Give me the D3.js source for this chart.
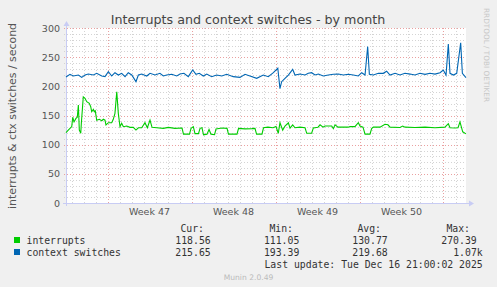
<!DOCTYPE html>
<html>
<head>
<meta charset="utf-8">
<script src="https://cdn.jsdelivr.net/npm/d3@7"></script>
<style>
    body { margin: 0; background: #f0f0f0; }
    svg { display: block; }
    text { font-family: "DejaVu Sans", sans-serif; }
    .mono { font-family: "DejaVu Sans Mono", monospace; font-size: 9.8px; fill: #333; }
</style>
</head>
<body>
<div id="chart"></div>
<script>

// data, times are days since the graph start
var intDays = [0, 0.19, 0.48, 0.56, 0.67, 0.83, 0.94, 1.03, 1.11, 1.23, 1.28, 1.44, 1.58, 1.73, 1.94, 2.06, 2.14, 2.28,
    2.36, 2.44, 2.56, 2.78, 2.98, 3.11, 3.25, 3.33, 3.53, 3.81, 3.94, 4.08, 4.23, 4.36, 4.5, 4.64, 4.78, 5.06, 5.33,
    5.61, 5.83, 6.03, 6.31, 6.58, 6.78, 7.0, 7.17, 7.56, 8.11, 8.53, 9.08, 9.67, 9.79, 10.29, 10.42, 10.61, 10.75,
    11.04, 11.17, 11.33, 11.46, 11.75, 11.92, 12.08, 12.38, 12.5, 13, 13.42, 13.54, 14.25, 14.38, 14.92, 15.5, 15.75,
    15.88, 16.33, 16.46, 16.83, 17.25, 17.5, 17.69, 17.83, 18.06, 18.25, 18.53, 18.67, 18.89, 19.08, 19.5, 19.92,
    20.06, 20.47, 20.61, 21, 21.17, 21.42, 21.58, 22.14, 22.28, 22.42, 22.67, 23.5, 23.67, 24.08, 24.36, 24.5, 24.75,
    24.92, 25.33, 25.47, 25.61, 26.17, 26.58, 26.83, 27, 27.83, 28.06, 28.25, 29.08, 29.92, 30.75, 31.58, 31.86, 32,
    32.42, 32.67, 32.83, 33.06, 33.33];
var interrupts = [120.5, 125, 131, 147, 139, 145, 147, 168, 125, 119.5, 137, 182, 179.5, 173.7, 171, 165, 156.5, 160.6,
    156.5, 158, 142, 143.5, 141, 143.5, 142, 133.7, 137.7, 137.7, 143.5, 153.7, 190.8, 153.7, 130.8, 136.6, 130.8, 132, 129.7,
    129.7, 125, 129, 129, 137.7, 129, 142, 129.7, 129, 128, 129.7, 128, 128.5, 118, 118, 128, 131, 119,
    119, 128, 129, 117, 118, 126, 118, 117, 127, 128.5, 128, 118, 118, 128, 127, 127.5, 128,
    118, 118, 129, 130, 129, 131, 119.5, 137.6, 125, 132, 137.6, 128.5, 134, 129, 130, 129,
    119.5, 119.5, 128.5, 130, 134, 130, 132, 132, 127.5, 134, 130, 130, 131, 131, 137.6, 132, 130,
    118, 118, 127.5, 130, 130, 135, 134, 130, 129.5, 132, 130, 129.5, 130, 129, 130, 136, 129,
    128.5, 129, 139, 122, 118.5];

var ctxDays = [0, 0.33, 0.61, 1.03, 1.31, 1.58, 1.86, 2.28, 2.56, 2.98, 3.25, 3.53, 3.81, 4.08, 4.36, 4.64, 4.92, 5.19,
    5.48, 5.83, 6.03, 6.31, 6.73, 7.0, 7.42, 7.83, 8.11, 8.39, 8.81, 9.23, 9.5, 9.83, 10.19, 10.56, 10.83, 11.11, 11.44,
    11.73, 12.14, 12.56, 12.98, 13.39, 13.94, 14.5, 14.92, 15.33, 15.89, 16.44, 16.86, 17.28, 17.65, 17.83, 17.97,
    18.25, 18.53, 18.89, 19.08, 19.5, 19.92, 20.19, 20.47, 20.75, 21.03, 21.44, 21.86, 22.28, 22.69, 23.11, 23.53,
    23.94, 24.36, 24.64, 24.92, 25.14, 25.28, 25.61, 26.03, 26.44, 26.72, 27.0, 27.42, 27.83, 28.25, 28.67, 29.08,
    29.5, 29.92, 30.33, 30.75, 31.17, 31.44, 31.67, 31.86, 32.0, 32.28, 32.56, 32.89, 33.03, 33.33];
var contextSwitches = [216, 220.6, 217.7, 219.4, 215.4, 219.4, 221, 219.4, 222.3, 217.7, 216.6, 225, 217.7, 223.4, 219.4, 222.3, 216.6, 223.4,
    219.4, 208, 219.4, 221, 217.7, 222.3, 219.4, 222.3, 217.7, 219.4, 220.6, 217.7, 221, 222.3, 216.6, 228, 220.6, 222.3, 217.7,
    221, 216.6, 219.4, 217.7, 220.6, 216.6, 215.4, 220.6, 217.7, 213.7, 219.4, 216.6, 223.4, 231, 196, 208,
    213.7, 219.4, 229, 219.4, 221, 219.4, 222.3, 223.4, 219.4, 221, 217.7, 219.4, 220.6, 221, 219.4, 220.6,
    219.4, 217.7, 223.4, 219.4, 268, 220.6, 219.4, 222.3, 222.3, 226, 219.4, 222.3, 219.4, 222.3, 221, 219.4,
    222.3, 220.6, 222.3, 221, 223.4, 228, 219.4, 272.6, 222.3, 219.4, 222.3, 274.8, 222.3, 214.8];

var yTicks = [0, 50, 100, 150, 200, 250, 300];
var seriesNames = ["interrupts", "context switches"];
var seriesColors = ["#00cc00", "#0066b3"];
var statHeads = ["Cur:", "Min:", "Avg:", "Max:"];
var statsInt = ["118.56", "111.05", "130.77", "270.39"];
var statsCtx = ["215.65", "193.39", "219.68", "1.07k"];

var startDate = new Date(2025, 10, 13, 13, 0);
var endDate = new Date(2025, 11, 16, 21, 0);

var width = 497, height = 287;
var plotLeft = 66, plotRight = 466, plotTop = 28, plotBottom = 203;

var svg = d3.select("#chart")
    .append("svg")
    .attr("width", width)
    .attr("height", height);

svg.append("rect")
    .attr("width", width)
    .attr("height", height)
    .attr("fill", "#f0f0f0");

svg.append("rect")
    .attr("x", plotLeft)
    .attr("y", plotTop)
    .attr("width", plotRight - plotLeft)
    .attr("height", plotBottom - plotTop)
    .attr("fill", "#ffffff");

var xScale = d3.scaleTime()
    .domain([startDate, endDate])
    .range([plotLeft, plotRight]);

var yScale = d3.scaleLinear()
    .domain([0, 300])
    .range([plotBottom, plotTop]);

function toDate(d) {
    return new Date(startDate.getTime() + d * 86400000);
}

/* grid */
var minorY = d3.range(0, 301, 10).filter(function (v) { return v % 50 !== 0; });
svg.selectAll(".hminor")
    .data(minorY)
    .enter()
    .append("line")
    .attr("x1", plotLeft - 2)
    .attr("x2", plotRight)
    .attr("y1", function (d) { return Math.round(yScale(d)) + 0.5; })
    .attr("y2", function (d) { return Math.round(yScale(d)) + 0.5; })
    .attr("stroke", "#d4d4d4")
    .attr("stroke-dasharray", "1,2");

var days = d3.timeDay.range(startDate, endDate).filter(function (d) { return d.getDay() !== 1; });
svg.selectAll(".vminor")
    .data(days)
    .enter()
    .append("line")
    .attr("x1", function (d) { return Math.round(xScale(d)) + 0.5; })
    .attr("x2", function (d) { return Math.round(xScale(d)) + 0.5; })
    .attr("y1", plotTop)
    .attr("y2", plotBottom + 2)
    .attr("stroke", "#d4d4d4")
    .attr("stroke-dasharray", "1,2");

svg.selectAll(".hmajor")
    .data(yTicks.filter(function (d) { return d > 0; }))
    .enter()
    .append("line")
    .attr("x1", plotLeft - 2)
    .attr("x2", plotRight)
    .attr("y1", function (d) { return Math.round(yScale(d)) + 0.5; })
    .attr("y2", function (d) { return Math.round(yScale(d)) + 0.5; })
    .attr("stroke", "#eaa0a0")
    .attr("stroke-dasharray", "1,2");

var mondays = d3.timeMonday.range(startDate, endDate);
svg.selectAll(".vmajor")
    .data(mondays)
    .enter()
    .append("line")
    .attr("x1", function (d) { return Math.round(xScale(d)) + 0.5; })
    .attr("x2", function (d) { return Math.round(xScale(d)) + 0.5; })
    .attr("y1", plotTop)
    .attr("y2", plotBottom + 2)
    .attr("stroke", "#eaa0a0")
    .attr("stroke-dasharray", "1,2");

/* axes */
var axisColor = "#c8ccf4";
svg.append("line")
    .attr("x1", plotLeft - 3).attr("x2", plotRight + 3)
    .attr("y1", plotBottom + 0.5).attr("y2", plotBottom + 0.5)
    .attr("stroke", axisColor);
svg.append("line")
    .attr("x1", plotLeft + 0.5).attr("x2", plotLeft + 0.5)
    .attr("y1", plotBottom + 3).attr("y2", plotTop - 3)
    .attr("stroke", axisColor);
svg.append("path")
    .attr("d", "M" + (plotRight + 3) + "," + (plotBottom - 2.5) + "L" + (plotRight + 8) + "," + (plotBottom + 0.5) + "L" + (plotRight + 3) + "," + (plotBottom + 3.5) + "Z")
    .attr("fill", axisColor);
svg.append("path")
    .attr("d", "M" + (plotLeft - 2.5) + "," + (plotTop - 2) + "L" + (plotLeft + 0.5) + "," + (plotTop - 7) + "L" + (plotLeft + 3.5) + "," + (plotTop - 2) + "Z")
    .attr("fill", axisColor);

svg.selectAll(".ylabel")
    .data(yTicks)
    .enter()
    .append("text")
    .attr("x", plotLeft - 6)
    .attr("y", function (d) { return yScale(d) + 3.5; })
    .attr("text-anchor", "end")
    .style("font-size", "9.5px")
    .attr("fill", "#555")
    .text(function (d) { return d; });

var formatWeek = d3.timeFormat("Week %V");
var weekMid = mondays.map(function (d) { return d3.timeHour.offset(d, 84); })
    .filter(function (d) { return d > startDate && d < endDate; });
svg.selectAll(".xlabel")
    .data(weekMid)
    .enter()
    .append("text")
    .attr("x", function (d) { return xScale(d); })
    .attr("y", 215)
    .attr("text-anchor", "middle")
    .style("font-size", "9.5px")
    .attr("fill", "#555")
    .text(function (d) { return formatWeek(d); });

/* lines */
var line = d3.line()
    .x(function (d) { return xScale(toDate(d[0])); })
    .y(function (d) { return yScale(d[1]); });

svg.append("path")
    .attr("d", line(d3.zip(intDays, interrupts)))
    .attr("fill", "none")
    .attr("stroke", seriesColors[0])
    .attr("stroke-width", 1.1);

svg.append("path")
    .attr("d", line(d3.zip(ctxDays, contextSwitches)))
    .attr("fill", "none")
    .attr("stroke", seriesColors[1])
    .attr("stroke-width", 1.1);

/* texts */
svg.append("text")
    .attr("x", 248)
    .attr("y", 23.5)
    .attr("text-anchor", "middle")
    .style("font-size", "12.7px")
    .attr("fill", "#444")
    .text("Interrupts and context switches - by month");

svg.append("text")
    .attr("transform", "translate(15.5,116) rotate(-90)")
    .attr("text-anchor", "middle")
    .attr("textLength", 186)
    .attr("lengthAdjust", "spacingAndGlyphs")
    .style("font-size", "10.5px")
    .attr("fill", "#555")
    .text("interrupts & ctx switches / second");

svg.append("text")
    .attr("transform", "translate(484,8) rotate(90)")
    .attr("text-anchor", "start")
    .style("font-size", "7.3px")
    .attr("fill", "#c8c8c8")
    .text("RRDTOOL / TOBI OETIKER");

/* legend */
var colEnds = [204, 293, 381, 470];
var valEnds = [210.7, 299.3, 387.7, 476.7];

svg.selectAll(".head")
    .data(statHeads)
    .enter()
    .append("text")
    .attr("class", "mono")
    .attr("x", function (d, i) { return colEnds[i]; })
    .attr("y", 231.5)
    .attr("text-anchor", "end")
    .text(function (d) { return d; });

[statsInt, statsCtx].forEach(function (stats, r) {
    var y = 243.5 + r * 12;
    svg.append("rect")
        .attr("x", 14)
        .attr("y", y - 6.5)
        .attr("width", 6)
        .attr("height", 6)
        .attr("fill", seriesColors[r]);
    svg.append("text")
        .attr("class", "mono")
        .attr("x", 26.5)
        .attr("y", y)
        .text(seriesNames[r]);
    svg.selectAll(".val" + r)
        .data(stats)
        .enter()
        .append("text")
        .attr("class", "mono")
        .attr("x", function (d, i) { return d.slice(-1) === "k" ? valEnds[i] + 6 : valEnds[i]; })
        .attr("y", y)
        .attr("text-anchor", "end")
        .text(function (d) { return d; });
});

svg.append("text")
    .attr("class", "mono")
    .attr("x", 482.7)
    .attr("y", 267.5)
    .attr("text-anchor", "end")
    .text("Last update: Tue Dec 16 21:00:02 2025");

svg.append("text")
    .attr("x", 248.5)
    .attr("y", 279.5)
    .attr("text-anchor", "middle")
    .style("font-size", "7.6px")
    .attr("fill", "#bbb")
    .text("Munin 2.0.49");

</script>
</body>
</html>
